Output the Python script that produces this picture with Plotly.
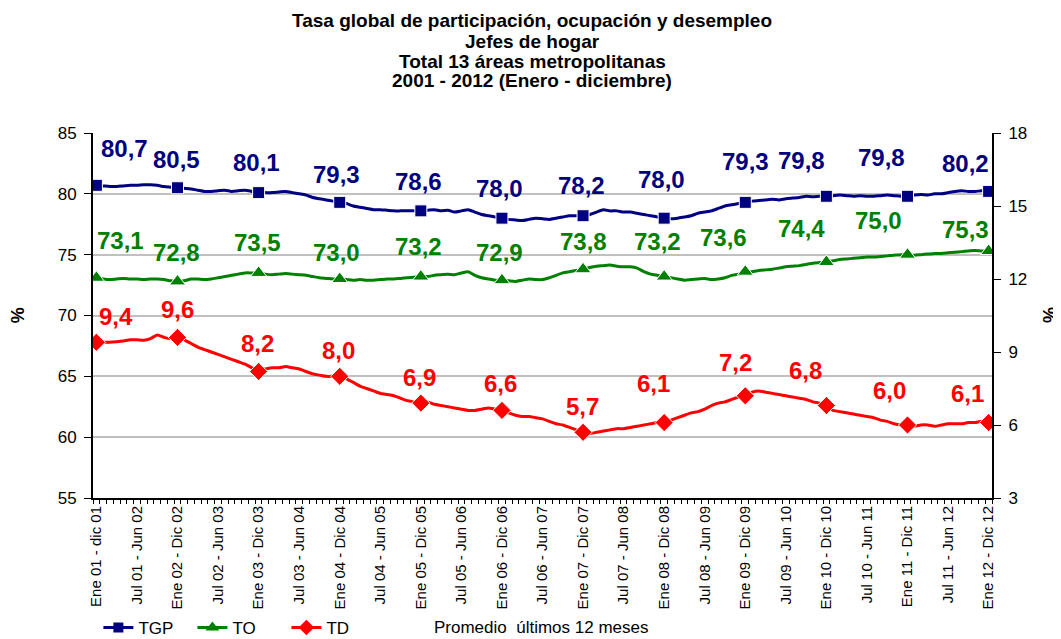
import plotly.graph_objects as go

# ---- data (12-month moving averages, monthly windows Ene01-dic01 ... Ene12-Dic12) ----
tgp = [80.7, 80.65, 80.6, 80.6, 80.65, 80.7, 80.7, 80.75, 80.75, 80.7, 80.6, 80.55,
       80.5, 80.45, 80.4, 80.3, 80.2, 80.2, 80.25, 80.3, 80.2, 80.25, 80.3, 80.2,
       80.1, 80.1, 80.1, 80.15, 80.2, 80.1, 80.0, 79.9, 79.7, 79.6, 79.5, 79.4,
       79.3, 79.2, 79.0, 78.9, 78.8, 78.7, 78.7, 78.65, 78.6, 78.6, 78.6, 78.6,
       78.6, 78.65, 78.7, 78.6, 78.65, 78.5, 78.6, 78.7, 78.5, 78.3, 78.2, 78.1,
       78.0, 77.9, 77.85, 77.8, 77.9, 78.0, 77.95, 77.9, 78.0, 78.1, 78.2, 78.2,
       78.2, 78.3, 78.5, 78.7, 78.6, 78.6, 78.5, 78.5, 78.4, 78.3, 78.2, 78.1,
       78.0, 77.95, 78.0, 78.1, 78.2, 78.4, 78.5, 78.6, 78.8, 79.0, 79.1, 79.2,
       79.3, 79.4, 79.45, 79.5, 79.55, 79.5, 79.6, 79.65, 79.7, 79.8, 79.75, 79.8,
       79.8, 79.85, 79.9, 79.85, 79.8, 79.85, 79.8, 79.8, 79.85, 79.9, 79.85, 79.8,
       79.8, 79.9, 79.95, 79.9, 80.0, 80.0, 80.1, 80.2, 80.25, 80.2, 80.2, 80.25,
       80.2]
to = [73.1, 73.0, 72.95, 73.0, 73.05, 73.0, 73.0, 72.95, 73.0, 73.0, 72.95, 72.85,
      72.8, 72.85, 73.0, 73.0, 72.95, 73.0, 73.1, 73.2, 73.3, 73.4, 73.5, 73.5,
      73.5, 73.4, 73.35, 73.4, 73.45, 73.4, 73.35, 73.3, 73.2, 73.1, 73.05, 73.0,
      73.0, 72.95, 72.9, 72.95, 72.9, 72.9, 72.95, 73.0, 73.0, 73.05, 73.1, 73.15,
      73.2, 73.2, 73.3, 73.35, 73.4, 73.35, 73.5, 73.6, 73.3, 73.1, 73.0, 72.9,
      72.9, 72.85, 72.8, 72.9, 73.0, 72.95, 72.95, 73.1, 73.3, 73.5, 73.6, 73.7,
      73.8, 73.95, 74.05, 74.1, 74.15, 74.05, 74.0, 74.0, 73.9, 73.6, 73.4, 73.3,
      73.2, 73.1, 73.0, 72.9, 72.95, 73.0, 73.05, 72.95, 73.0, 73.1, 73.3, 73.4,
      73.6, 73.6, 73.7, 73.75, 73.8, 73.9, 74.0, 74.05, 74.1, 74.2, 74.3, 74.35,
      74.4, 74.5, 74.6, 74.65, 74.7, 74.75, 74.8, 74.8, 74.85, 74.9, 74.95, 75.0,
      75.0, 74.95, 75.0, 75.05, 75.1, 75.1, 75.15, 75.2, 75.25, 75.3, 75.35, 75.3,
      75.3]
td = [9.4, 9.4, 9.4, 9.42, 9.45, 9.5, 9.5, 9.48, 9.55, 9.7, 9.6, 9.55,
      9.6, 9.5, 9.35, 9.2, 9.1, 9.0, 8.9, 8.8, 8.7, 8.6, 8.5, 8.35,
      8.2, 8.3, 8.35, 8.35, 8.4, 8.35, 8.3, 8.2, 8.1, 8.05, 8.0, 8.0,
      8.0, 7.9, 7.75, 7.6, 7.5, 7.4, 7.3, 7.25, 7.2, 7.1, 7.0, 6.95,
      6.9, 6.95, 6.85, 6.8, 6.75, 6.7, 6.65, 6.6, 6.6, 6.65, 6.7, 6.65,
      6.6, 6.5, 6.4, 6.35, 6.35, 6.3, 6.25, 6.15, 6.05, 6.0, 5.9, 5.8,
      5.7, 5.65, 5.7, 5.75, 5.8, 5.85, 5.85, 5.9, 5.95, 6.0, 6.05, 6.1,
      6.1, 6.2, 6.3, 6.4, 6.5, 6.55, 6.65, 6.8, 6.9, 6.95, 7.05, 7.15,
      7.2, 7.35, 7.4, 7.35, 7.3, 7.25, 7.2, 7.15, 7.1, 7.05, 6.95, 6.9,
      6.8, 6.6, 6.55, 6.5, 6.45, 6.4, 6.35, 6.3, 6.2, 6.15, 6.05, 6.0,
      6.0, 5.95, 6.0, 6.0, 5.95, 6.0, 6.05, 6.05, 6.05, 6.1, 6.1, 6.15,
      6.1]

tick_labels = ["Ene 01 - dic 01", "Jul 01 - Jun 02", "Ene 02 - Dic 02", "Jul 02 - Jun 03",
               "Ene 03 - Dic 03", "Jul 03 - Jun 04", "Ene 04 - Dic 04", "Jul 04 - Jun 05",
               "Ene 05 - Dic 05", "Jul 05 - Jun 06", "Ene 06 - Dic 06", "Jul 06 - Jun 07",
               "Ene 07 - Dic 07", "Jul 07 - Jun 08", "Ene 08 - Dic 08", "Jul 08 - Jun 09",
               "Ene 09 - Dic 09", "Jul 09 - Jun 10", "Ene 10 - Dic 10", "Jul 10 - Jun 11",
               "Ene 11 - Dic 11", "Jul 11 - Jun 12", "Ene 12 - Dic 12"]

title_lines = ["Tasa global de participación, ocupación y desempleo",
               "Jefes de hogar",
               "Total 13 áreas metropolitanas",
               "2001 - 2012 (Enero - diciembre)"]

# ---- styles ----
FONT = "Arial, Liberation Sans, sans-serif"
NAVY, GREEN, RED = "#000080", "#008000", "#FF0000"
n = len(tgp)
x = list(range(n))
annual = [i for i in x if i % 12 == 0]
msize = lambda s: [s if i % 12 == 0 else 0 for i in x]

# label offsets (px, screen: right / down) per annual point
tgp_off = [(28, -37), (-1, -28), (-2, -30), (-3, -28), (-2, -29), (-2, -30),
           (-2, -30), (-3, -39), (0, -41), (-25, -36), (-26, -39), (-23, -28)]
to_off = [(24, -37), (-1, -29), (-1, -30), (-3, -27), (-2, -30), (-2, -28),
          (0, -28), (-7, -35), (-22, -34), (-25, -33), (-29, -34), (-23, -22)]
td_off = [(20, -26), (0, -28), (-1, -28), (-1, -26), (-1, -26), (-1, -27),
          (-1, -26), (-11, -39), (-10, -33), (-21, -35), (-18, -35), (-21, -29)]

series_specs = [("TGP", tgp, NAVY, "square", 12, "y", tgp_off),
                ("TO", to, GREEN, "triangle-up", 14, "y", to_off),
                ("TD", td, RED, "diamond", 14, "y2", td_off)]

fig = go.Figure()
for name, vals, color, sym, sz, yax, _ in series_specs:
    fig.add_trace(go.Scatter(x=x, y=vals, name=name, mode="lines+markers", yaxis=yax,
                             showlegend=False,
                             line=dict(color=color, width=3, shape="spline", smoothing=0.6),
                             marker=dict(symbol=sym, size=msize(sz), color=color, opacity=1)))
# legend entries (line + marker sample)
for name, vals, color, sym, sz, yax, _ in series_specs:
    fig.add_trace(go.Scatter(x=[None], y=[None], name=name, mode="lines+markers", yaxis=yax,
                             line=dict(color=color, width=3),
                             marker=dict(symbol=sym, size=sz - 2, color=color)))

def fmt(v):
    return f"{v:.1f}".replace(".", ",")

for name, vals, color, sym, sz, yax, off in series_specs:
    for k, i in enumerate(annual):
        fig.add_annotation(x=i, y=vals[i], xref="x", yref=yax, text=fmt(vals[i]),
                           showarrow=False, xshift=off[k][0], yshift=-off[k][1],
                           xanchor="center", yanchor="middle",
                           font=dict(family=FONT, size=24, color=color, weight="bold"))

title_y = [1.307, 1.252, 1.197, 1.145]
for t, yy in zip(title_lines, title_y):
    fig.add_annotation(x=0.4885, y=yy, xref="paper", yref="paper", text=f"<b>{t}</b>",
                       showarrow=False, xanchor="center", yanchor="middle",
                       font=dict(family=FONT, size=19, color="black"))

fig.add_annotation(x=0.498, y=-0.356, xref="paper", yref="paper",
                   text="Promedio&nbsp; últimos 12 meses", showarrow=False,
                   xanchor="center", yanchor="middle",
                   font=dict(family=FONT, size=17, color="black"))

for xx in (-0.0834, 1.0645):
    fig.add_annotation(x=xx, y=0.501, xref="paper", yref="paper", text="<b>%</b>",
                       showarrow=False, textangle=-90, xanchor="center", yanchor="middle",
                       font=dict(family=FONT, size=18, color="black"))

# page body has an 8px margin: figure is 8px smaller, margins 8px smaller on top/left
W, H = 1053, 631
fig.update_layout(
    width=W, height=H,
    margin=dict(l=85, r=69, t=125, b=141, autoexpand=False),
    paper_bgcolor="white", plot_bgcolor="white",
    font=dict(family=FONT, color="black"),
    showlegend=True,
    legend=dict(orientation="h", x=0.006, xanchor="left", y=1 - 620 / H, yanchor="middle",
                xref="paper", yref="container", entrywidth=49, entrywidthmode="pixels",
                font=dict(family=FONT, size=17), itemwidth=30, tracegroupgap=0),
    xaxis=dict(range=[-0.5, n - 0.5], tickvals=list(range(0, n, 6)), ticktext=tick_labels,
               tickangle=-90, tickfont=dict(family=FONT, size=15), ticks="",
               showgrid=False, zeroline=False, showline=True, linecolor="black", linewidth=2,
               automargin=False,
               minor=dict(tick0=-0.5, dtick=1, ticks="outside", ticklen=4,
                          tickcolor="black", showgrid=False)),
    yaxis=dict(range=[55, 85], dtick=5, tickfont=dict(family=FONT, size=17),
               ticks="outside", ticklen=7, tickcolor="black", ticklabelstandoff=4,
               showgrid=True, gridcolor="#C0C0C0", gridwidth=1.5, zeroline=False,
               showline=True, linecolor="black", linewidth=2, automargin=False),
    yaxis2=dict(range=[3, 18], dtick=3, overlaying="y", side="right",
                tickfont=dict(family=FONT, size=17), ticks="outside", ticklen=7,
                tickcolor="black", ticklabelstandoff=4, showgrid=False, zeroline=False,
                showline=True, linecolor="black", linewidth=2, automargin=False),
)

fig.write_html("out.html")
